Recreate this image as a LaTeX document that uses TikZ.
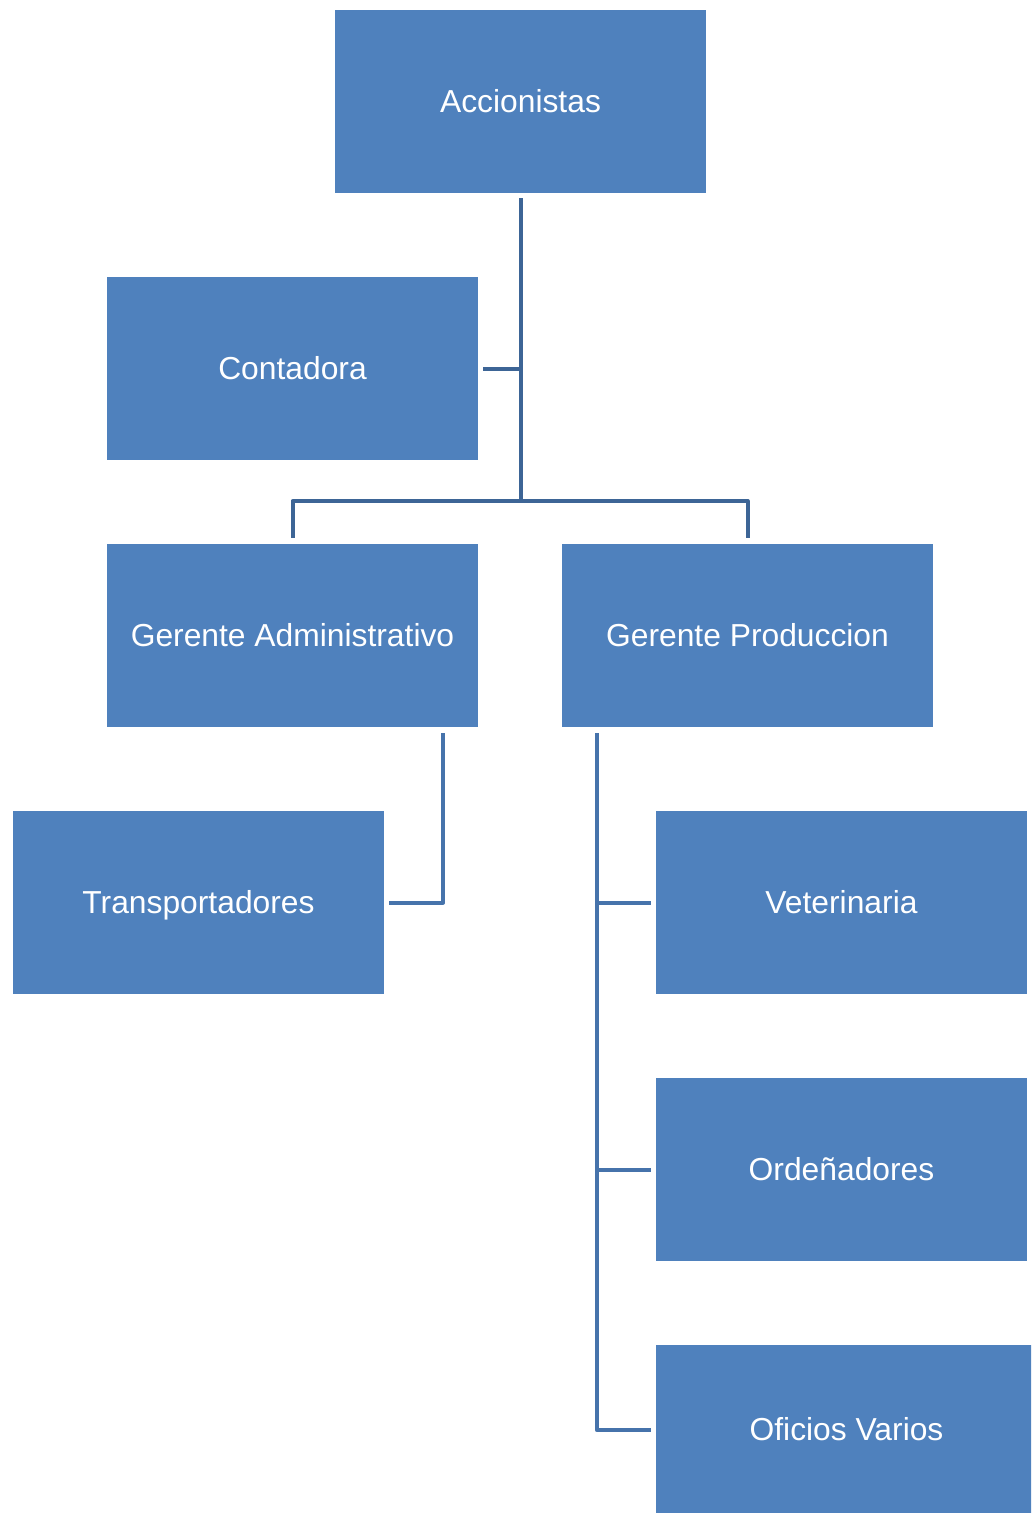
\documentclass[tikz,border=0pt]{standalone}
\usepackage{fontspec}
\setmainfont{Liberation Sans}
\definecolor{boxfill}{HTML}{4F81BD}
\definecolor{linedark}{HTML}{3D6596}
\definecolor{linemid}{HTML}{4673AB}
\begin{document}
\begin{tikzpicture}[x=1pt,y=-1pt,
  orgbox/.style={rectangle, fill=boxfill, draw=none, minimum width=371pt, minimum height=183pt,
    inner sep=0pt, text=white, text height=22.8pt, text depth=1pt, font=\fontsize{31.8}{36}\selectfont},
  conn/.style={draw=linedark, line width=4pt, line join=round},
  conntwo/.style={draw=linemid, line width=4pt, line join=round}]
\useasboundingbox (0,0) rectangle (1031,1513);
\clip (0,0) rectangle (1031,1513);
\node[orgbox] (acc) at (520.5,101.5) {Accionistas};
\node[orgbox] (cont) at (292.5,368.5) {Contadora};
\node[orgbox] (ga) at (292.5,635.5) {Gerente Administrativo};
\node[orgbox] (gp) at (747.5,635.5) {Gerente Produccion};
\node[orgbox] (trans) at (198.5,902.5) {Transportadores};
\node[orgbox] (vet) at (841.5,902.5) {Veterinaria};
\node[orgbox] (ord) at (841.5,1169.5) {Ordeñadores};
\node[orgbox, minimum width=381pt, minimum height=170pt] (ofi) at (846.5,1430) {Oficios Varios};
\coordinate (j1) at (520.5,501);
\draw[conn] ([yshift=-5]acc.south) -- (j1);
\draw[conn] ([xshift=5]cont.east) -- (cont.east -| j1);
\draw[conn] ([yshift=6]ga.north) |- (j1) -| ([yshift=6]gp.north);
\draw[conntwo] ([xshift=-35,yshift=-6]ga.south east) |- ([xshift=5]trans.east);
\coordinate (gps) at ([xshift=35,yshift=-6]gp.south west);
\draw[conntwo] (gps) |- ([xshift=-5]ofi.west);
\draw[conntwo] (vet.west -| gps) -- ([xshift=-5]vet.west);
\draw[conntwo] (ord.west -| gps) -- ([xshift=-5]ord.west);
\end{tikzpicture}
\end{document}
